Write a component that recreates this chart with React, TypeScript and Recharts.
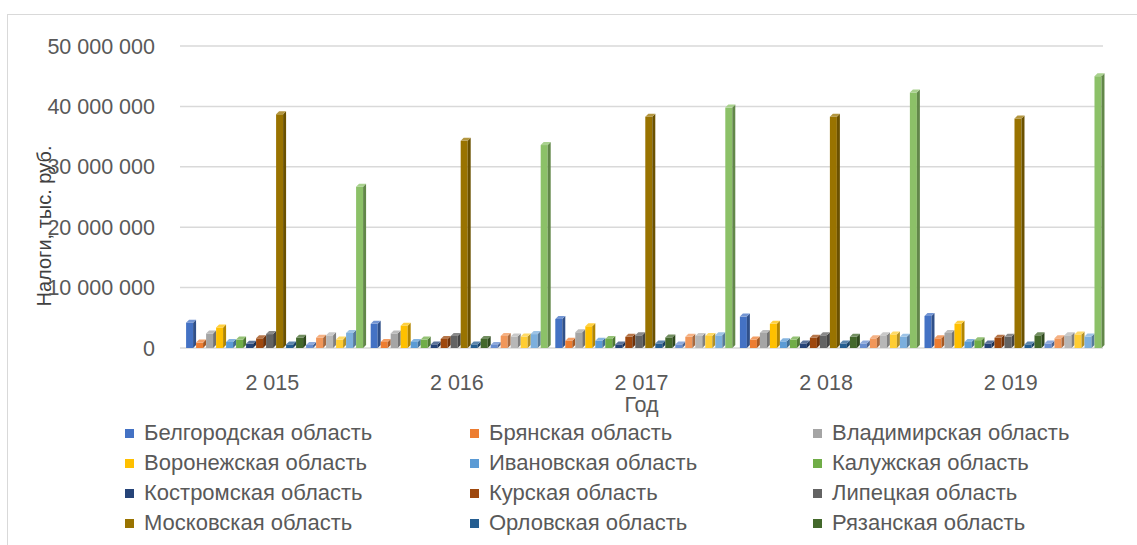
import { Bar, BarChart, CartesianGrid, Legend, XAxis, YAxis } from 'recharts';

const years = ['2 015', '2 016', '2 017', '2 018', '2 019'];

const regions = [
  'Белгородская область',
  'Брянская область',
  'Владимирская область',
  'Воронежская область',
  'Ивановская область',
  'Калужская область',
  'Костромская область',
  'Курская область',
  'Липецкая область',
  'Московская область',
  'Орловская область',
  'Рязанская область',
  'Смоленская область',
  'Тамбовская область',
  'Тверская область',
  'Тульская область',
  'Ярославская область',
  'г. Москва',
];

const colors = [
  '#4472C4', '#ED7D31', '#A5A5A5', '#FFC000', '#5B9BD5', '#70AD47',
  '#264478', '#9E480E', '#636363', '#997300', '#255E91', '#43682B',
  '#698ED0', '#F1975A', '#B7B7B7', '#FFCD33', '#7CAFDD', '#8CC168',
];

// налоги, тыс. руб., по годам 2015–2019
const belgorod = [4200000, 4000000, 4800000, 5200000, 5300000];
const bryansk = [900000, 1000000, 1200000, 1400000, 1600000];
const vladimir = [2400000, 2400000, 2600000, 2500000, 2500000];
const voronezh = [3400000, 3700000, 3600000, 4000000, 4000000];
const ivanovo = [1000000, 1000000, 1200000, 1100000, 1000000];
const kaluga = [1400000, 1400000, 1500000, 1400000, 1300000];
const kostroma = [700000, 600000, 600000, 750000, 750000];
const kursk = [1600000, 1500000, 1850000, 1700000, 1700000];
const lipetsk = [2300000, 2000000, 2100000, 2100000, 1850000];
const moscowObl = [38700000, 34300000, 38300000, 38300000, 38000000];
const oryol = [600000, 600000, 750000, 750000, 600000];
const ryazan = [1700000, 1500000, 1750000, 1850000, 2100000];
const smolensk = [500000, 500000, 600000, 750000, 750000];
const tambov = [1700000, 2000000, 1850000, 1600000, 1600000];
const tver = [2100000, 1900000, 2000000, 2100000, 2100000];
const tula = [1400000, 1900000, 2000000, 2250000, 2250000];
const yaroslavl = [2500000, 2300000, 2100000, 1850000, 1900000];
const moscow = [26700000, 33600000, 39800000, 42300000, 45000000];

const series = [
  belgorod, bryansk, vladimir, voronezh, ivanovo, kaluga,
  kostroma, kursk, lipetsk, moscowObl, oryol, ryazan,
  smolensk, tambov, tver, tula, yaroslavl, moscow,
];

const yTicks = [0, 10000000, 20000000, 30000000, 40000000, 50000000];

// в легенде видны только первые 12 регионов
const legendCount = 12;

const data = years.map((year, i) => {
  const row: Record<string, string | number> = { year };
  regions.forEach((name, j) => {
    row[name] = series[j][i];
  });
  return row;
});

const font = '"Liberation Sans", Arial, sans-serif';
const textColor = '#595959';

function shade(hex: string, k: number) {
  const n = parseInt(hex.slice(1), 16);
  const f = (c: number) => Math.max(0, Math.min(255, Math.round(k < 0 ? c * (1 + k) : c + (255 - c) * k)));
  const r = f((n >> 16) & 255);
  const g = f((n >> 8) & 255);
  const b = f(n & 255);
  return `rgb(${r},${g},${b})`;
}

function Bar3D(props: any) {
  const { x, y, width, height, fill } = props;
  if (!width || height == null || height <= 0) return null;
  const d = Math.min(3, width * 0.3);
  const w = width - d;
  return (
    <g>
      <rect x={x} y={y} width={w} height={height} fill={fill} />
      <polygon
        points={`${x + w},${y} ${x + width},${y - d} ${x + width},${y + height - d} ${x + w},${y + height}`}
        fill={shade(fill, -0.3)}
      />
      <polygon
        points={`${x},${y} ${x + d},${y - d} ${x + width},${y - d} ${x + w},${y}`}
        fill={shade(fill, 0.25)}
      />
    </g>
  );
}

function LegendGrid(props: any) {
  const items = ((props.payload || []) as any[]).filter((item) => item.type !== 'none');
  return (
    <div
      style={{
        display: 'grid',
        gridTemplateColumns: '345px 343px 300px',
        fontFamily: font,
        fontSize: 22,
        color: textColor,
      }}
    >
      {items.map((item) => (
        <div key={item.value} style={{ display: 'flex', alignItems: 'center', height: 30, whiteSpace: 'nowrap' }}>
          <span style={{ width: 9, height: 9, background: item.color, marginRight: 10, display: 'inline-block' }} />
          {item.value}
        </div>
      ))}
    </div>
  );
}

const fmt = (v: number) => String(v).replace(/\B(?=(\d{3})+(?!\d))/g, ' ');

export default function App() {
  return (
    <div style={{ position: 'absolute', left: 0, top: 0, width: 1137, height: 545, background: '#fff', overflow: 'hidden' }}>
      <div
        style={{
          position: 'absolute',
          left: 7,
          top: 14,
          right: 0,
          bottom: 0,
          borderLeft: '1px solid #d9d9d9',
          borderTop: '1px solid #d9d9d9',
        }}
      />
      <div style={{ position: 'absolute', left: 0, top: 0 }}>
        <BarChart
          width={1137}
          height={545}
          data={data}
          margin={{ top: 46, right: 34, left: 0, bottom: 133 }}
          barCategoryGap="3.3%"
          barGap={0}
        >
          <CartesianGrid vertical={false} stroke="#d9d9d9" strokeWidth={1.5} />
          <XAxis
            dataKey="year"
            height={64}
            axisLine={false}
            tickLine={false}
            tickMargin={21}
            tick={{ fill: textColor, fontSize: 21.5, fontFamily: font }}
            label={{ value: 'Год', position: 'insideBottom', offset: 0, fill: textColor, fontSize: 21.5, fontFamily: font }}
          />
          <YAxis
            width={180}
            domain={[0, 50000000]}
            ticks={yTicks}
            interval={0}
            axisLine={false}
            tickLine={false}
            tickMargin={19}
            tickFormatter={fmt}
            tick={{ fill: textColor, fontSize: 21.5, fontFamily: font }}
            label={{
              content: () => (
                <text
                  x={44}
                  y={226}
                  transform="rotate(-90 44 226)"
                  textAnchor="middle"
                  dominantBaseline="central"
                  fill="#404040"
                  fontSize={20}
                  fontFamily={font}
                >
                  Налоги, тыс. руб.
                </text>
              ),
            }}
          />
          <Legend
            layout="vertical"
            align="center"
            verticalAlign="middle"
            wrapperStyle={{ top: 418, left: 125, width: 1000 }}
            content={LegendGrid}
          />
          {regions.map((name, j) => (
            <Bar
              key={name}
              dataKey={name}
              fill={colors[j]}
              shape={Bar3D}
              legendType={j < legendCount ? 'square' : 'none'}
              isAnimationActive={false}
            />
          ))}
        </BarChart>
      </div>
    </div>
  );
}
